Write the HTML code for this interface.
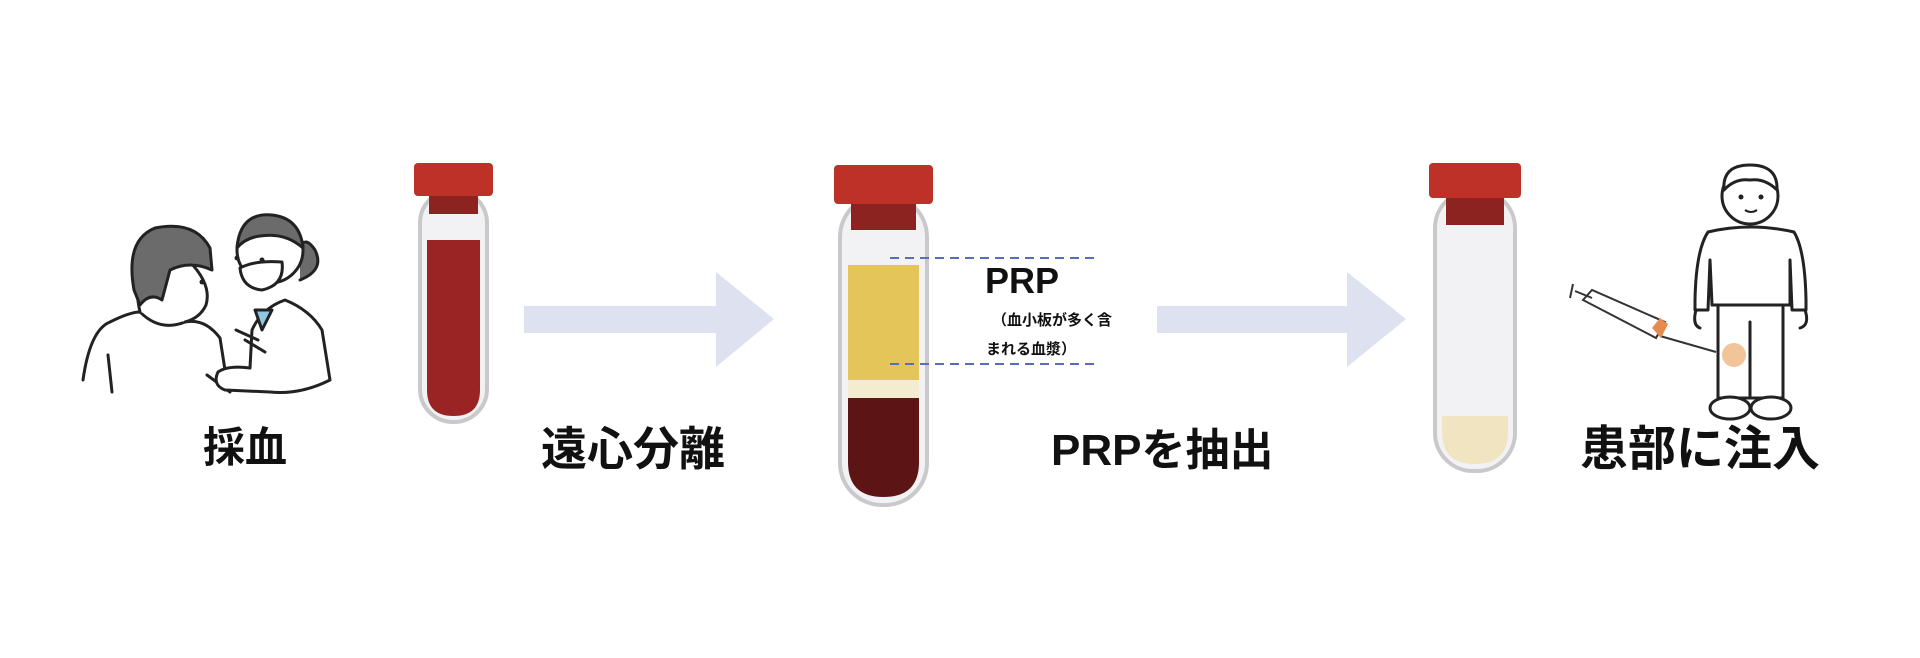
<!DOCTYPE html>
<html><head><meta charset="utf-8"><style>
html,body{margin:0;padding:0;background:#fff;}
svg{display:block;}
text{font-family:"Liberation Sans","Noto Sans CJK JP",sans-serif;font-weight:bold;fill:#111;}
</style></head><body>
<svg width="1920" height="658" viewBox="0 0 1920 658" xmlns="http://www.w3.org/2000/svg">
<!-- Person illustration 1 -->
<g stroke="#222" stroke-width="3" fill="none" stroke-linecap="round" stroke-linejoin="round">
 <path d="M83 380 Q90 330 110 322 Q130 312 140 312 Q160 332 185 322 Q205 318 220 338 L225 370" fill="#fff"/>
 <path d="M108 355 L112 392 M207 375 L230 392"/>
 <path d="M140 312 Q135 290 140 280 Q150 250 190 262 Q212 285 206 305 Q200 318 185 322" fill="#fff"/>
 <path d="M134 290 Q125 240 155 228 Q195 220 210 248 L212 270 Q190 260 170 270 L162 300 Q150 292 140 305 Z" fill="#6b6b6b"/>
 <path d="M285 300 Q310 310 322 330 L330 380 Q300 395 270 392 L225 390 Q212 385 218 372 Q228 365 250 368 L252 330 Q262 308 285 300Z" fill="#fff"/>
 <path d="M300 248 Q305 235 315 250 Q325 270 300 280" fill="#6b6b6b"/>
 <circle cx="270" cy="250" r="33" fill="#fff"/>
 <path d="M237 248 Q240 212 272 215 Q300 218 303 248 Q285 232 260 236 Q245 238 237 248Z" fill="#6b6b6b"/>
 <path d="M240 268 Q255 260 282 262 Q285 285 262 290 Q242 288 240 268Z" fill="#fff"/>
 <path d="M255 310 L262 330 L272 310 Z" fill="#8ec6e4"/>
 <path d="M236 330 L258 340 M245 340 L265 352"/>
</g>
<circle cx="237" cy="258" r="2.5" fill="#222"/><circle cx="262" cy="260" r="2.5" fill="#222"/><circle cx="202" cy="282" r="2.5" fill="#222"/>

<!-- Tube 1 -->
<rect x="420" y="190" width="67" height="232" rx="33" fill="#f2f2f4" stroke="#c9c9cc" stroke-width="4"/>
<path d="M427 240 H480 V390 Q480 416 453.5 416 Q427 416 427 390Z" fill="#9a2324"/>
<rect x="429" y="192" width="49" height="22" fill="#8c2320"/>
<rect x="414" y="163" width="79" height="33" rx="4" fill="#bd3128"/>

<!-- Arrow 1 -->
<rect x="524" y="306" width="195" height="27" fill="#dde1f0"/>
<polygon points="716,272 774,319 716,367" fill="#dde1f0"/>

<!-- Tube 2 -->
<rect x="840" y="195" width="87" height="310" rx="42" fill="#f2f2f4" stroke="#c9c9cc" stroke-width="4"/>
<rect x="848" y="265" width="71" height="115" fill="#e4c55a"/>
<rect x="848" y="380" width="71" height="18" fill="#f3ecd0"/>
<path d="M848 398 H919 V462 Q919 497 883.5 497 Q848 497 848 462Z" fill="#5c1414"/>
<rect x="851" y="197" width="65" height="33" fill="#8c2320"/>
<rect x="834" y="165" width="99" height="39" rx="4" fill="#bd3128"/>
<line x1="890" y1="258" x2="1096" y2="258" stroke="#5a6db8" stroke-width="2" stroke-dasharray="9,6"/>
<line x1="890" y1="364" x2="1096" y2="364" stroke="#5a6db8" stroke-width="2" stroke-dasharray="9,6"/>
<text x="985" y="293" font-size="36">PRP</text>
<text x="992" y="325" font-size="15">（血小板が多く含</text>
<text x="986" y="354" font-size="15">まれる血漿）</text>

<!-- Arrow 2 -->
<rect x="1157" y="306" width="193" height="27" fill="#dde1f0"/>
<polygon points="1347,272 1406,319 1347,367" fill="#dde1f0"/>

<!-- Tube 3 -->
<rect x="1435" y="190" width="80" height="281" rx="38" fill="#f2f2f4" stroke="#c9c9cc" stroke-width="4"/>
<path d="M1442 416 H1508 V432 Q1508 464 1475 464 Q1442 464 1442 432Z" fill="#f1e4c0"/>
<rect x="1446" y="192" width="58" height="33" fill="#8c2320"/>
<rect x="1429" y="163" width="92" height="35" rx="4" fill="#bd3128"/>

<!-- Boy -->
<g stroke="#222" stroke-width="3" fill="#fff" stroke-linejoin="round" stroke-linecap="round">
 <path d="M1718 300 H1783 V398 H1718 Z"/>
 <path d="M1750 322 V398"/>
 <ellipse cx="1730" cy="408" rx="20" ry="11"/>
 <ellipse cx="1771" cy="408" rx="20" ry="11"/>
 <path d="M1708 232 Q1750 222 1794 232 Q1805 250 1806 300 L1806 310 L1792 310 L1790 260 L1790 305 H1712 L1710 260 L1708 310 L1695 310 L1695 300 Q1696 250 1708 232Z"/>
 <path d="M1696 310 Q1692 325 1700 328 M1805 310 Q1810 325 1800 328" fill="none"/>
 <circle cx="1750" cy="196" r="28"/>
 <path d="M1724 190 Q1722 165 1750 165 Q1778 165 1777 190 Q1765 178 1750 180 Q1735 178 1724 190" fill="#fff"/>
</g>
<circle cx="1741" cy="197" r="2.5" fill="#222"/><circle cx="1761" cy="197" r="2.5" fill="#222"/>
<path d="M1745 210 Q1751 214 1757 210" stroke="#222" stroke-width="2" fill="none"/>
<circle cx="1734" cy="355" r="12" fill="#f2c49a"/>
<g stroke="#333" stroke-width="2" fill="#fff">
 <line x1="1660" y1="336" x2="1716" y2="352"/>
 <path d="M1583 300 L1592 290 L1665 322 L1656 338 Z"/>
 <path d="M1652 328 L1660 318 L1668 324 L1661 338 Z" fill="#e58b4f" stroke="none"/>
 <line x1="1575" y1="291" x2="1592" y2="298"/>
 <line x1="1573" y1="284" x2="1570" y2="298"/>
</g>

<!-- Labels -->
<text x="203" y="462" font-size="42">採血</text>
<text x="541" y="465" font-size="46">遠心分離</text>
<text x="1051" y="465" font-size="44">PRPを抽出</text>
<text x="1580" y="465" font-size="48">患部に注入</text>
</svg>
</body></html>
